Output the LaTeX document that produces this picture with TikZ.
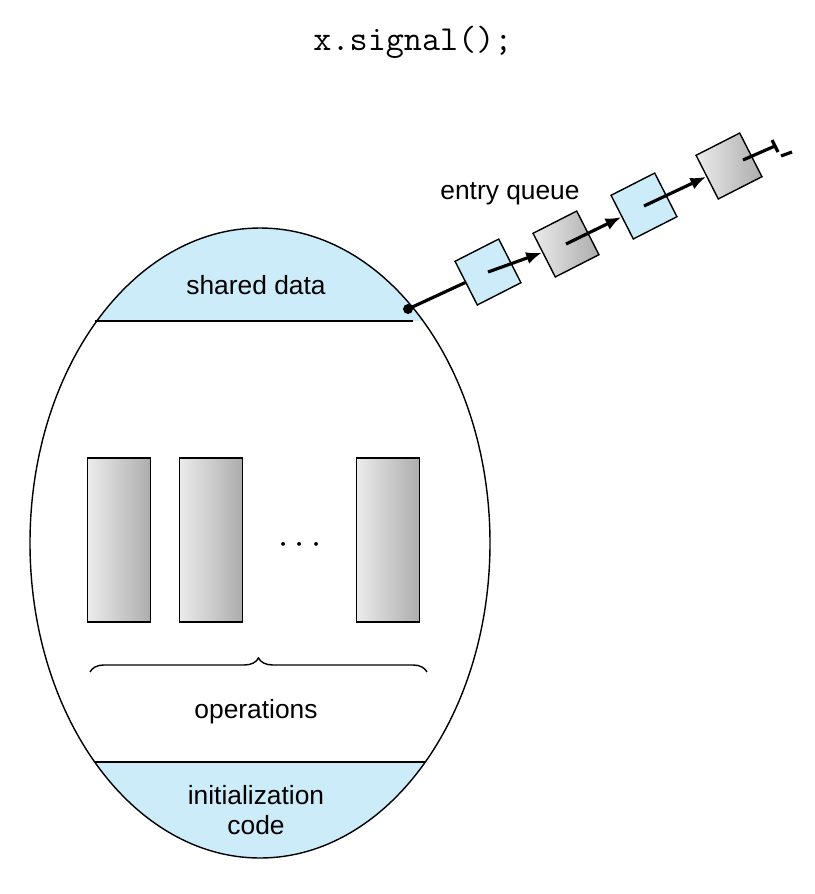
\documentclass[tikz,border=0pt]{standalone}
\usepackage{fontspec}
\setsansfont{Liberation Sans}
\usetikzlibrary{decorations.pathreplacing,arrows.meta}
\definecolor{lightblue}{RGB}{204,236,250}
\begin{document}
\begin{tikzpicture}
	[x=0.02cm,y=-0.02cm,
	 label/.style={font=\sffamily\fontsize{15}{18}\selectfont,align=center},
	 proc/.style={draw,thick,minimum width=1.26cm,minimum height=3.28cm,left color=gray!15,right color=gray!65},
	 cell/.style={draw,thick,minimum size=0.98cm,rotate=27,fill=lightblue},
	 greycell/.style={cell,left color=gray!15,right color=gray!65},
	 arrow/.style={-{Latex[length=9pt,width=7pt]},line width=1.8pt},
	 line/.style={line width=1.8pt}]

	\path [use as bounding box] (0,0) rectangle (815,894);

	\node[font=\ttfamily\fontsize{20}{24}\selectfont] (title) at (413,42) {x.signal();};

	% monitor
	\begin{scope}
		\clip (260,543) ellipse [x radius=230,y radius=315];
		\fill[lightblue] (0,0) rectangle (815,321);
		\fill[lightblue] (0,762) rectangle (815,894);
	\end{scope}
	\draw[thick] (260,543) ellipse [x radius=230,y radius=315];
	\coordinate (sdl) at (95,321);
	\coordinate (sdr) at (413,321);
	\coordinate (icl) at (95,762);
	\coordinate (icr) at (425,762);
	\draw[thick] (sdl) -- (sdr);
	\draw[thick] (icl) -- (icr);

	\node[label] (shared) at (256,285) {shared data};
	\node[label] (init)   at (256,810) {initialization\\[-1pt]code};

	\node[proc] (op1) at (119,540) {};
	\node[proc] (op2) at (211,540) {};
	\node[proc] (op3) at (388,540) {};
	\node[font=\fontsize{22}{22}\selectfont] (dots) at (300,545) {$\cdots$};

	\coordinate (bl) at (90,672);
	\coordinate (br) at (427,672);
	\draw[thick,decorate,decoration={brace,amplitude=8pt,mirror}] (br) -- (bl);
	\node[label] (ops) at (256,712) {operations};

	% entry queue
	\coordinate (head) at (408,309);
	\fill (head) circle (5);
	\node[cell]     (q1) at (488,272) {};
	\node[greycell] (q2) at (566,244) {};
	\node[cell]     (q3) at (644,206) {};
	\node[greycell] (q4) at (729,166) {};
	\coordinate (tail) at (775,146);
	\node[label] (queue) at (510,194) {entry queue};

	\draw[line] (head) -- (q1);
	\draw[arrow] (q1.center) -- (q2);
	\draw[arrow] (q2.center) -- (q3);
	\draw[arrow] (q3.center) -- (q4);
	\draw[line] (q4.center) ++(14,-6) -- (tail);
	\draw[line] (tail) ++(-3,-6) -- ++(6,12);
	\draw[line] (781,156) -- (792,152);
\end{tikzpicture}
\end{document}
